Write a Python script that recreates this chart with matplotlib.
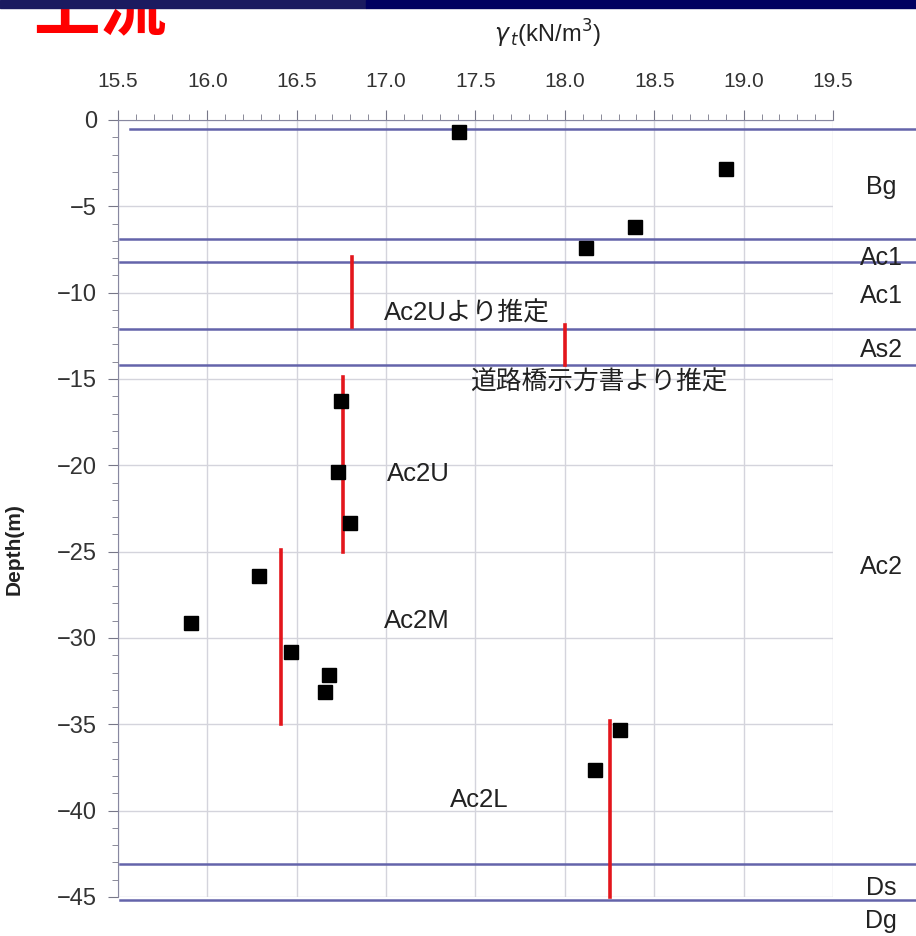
import numpy as np
import matplotlib.pyplot as plt
from matplotlib.ticker import MultipleLocator
from matplotlib.patches import Rectangle

plt.rcParams['font.family'] = ['Liberation Sans', 'Noto Sans CJK JP', 'DejaVu Sans']

# measured unit weight (kN/m3) vs depth (m)
gamma = [17.41, 18.90, 18.39, 18.12, 16.75, 16.73, 16.80, 16.29, 15.91, 16.47, 16.68, 16.66, 18.31, 18.17]
depth = [-0.7, -2.85, -6.2, -7.4, -16.3, -20.4, -23.35, -26.4, -29.15, -30.8, -32.15, -33.1, -35.35, -37.65]

# adopted design values (red bars): value, top, bottom
design_gamma = [16.81, 18.0, 16.76, 16.41, 18.25]
design_top = [-7.95, -11.9, -14.9, -24.9, -34.8]
design_bot = [-12.0, -14.2, -25.0, -35.0, -45.0]

# layer boundaries
boundary_depth = [-0.55, -6.9, -8.25, -12.1, -14.2, -43.1, -45.2]
boundary_start = [15.57, 15.51, 15.51, 15.51, 15.51, 15.51, 15.51]

layer_names = ['Bg', 'Ac1', 'Ac1', 'As2', 'Ac2', 'Ds', 'Dg']
layer_label_y = [-3.9, -8.0, -10.2, -13.3, -25.9, -44.5, -46.4]

notes = ['Ac2Uより推定', '道路橋示方書より推定', 'Ac2U', 'Ac2M', 'Ac2L']
note_x = [17.45, 18.19, 17.18, 17.17, 17.52]
note_y = [-11.2, -15.2, -20.5, -29.0, -39.4]

fig = plt.figure(figsize=(9.16, 9.36), dpi=100)
ax = fig.add_axes([0.1288, 0.0417, 0.7806, 0.8301])

ax.set_xlim(15.5, 19.5)
ax.set_ylim(-45, 0)
ax.xaxis.tick_top()
ax.xaxis.set_label_position('top')
ax.xaxis.set_major_locator(MultipleLocator(0.5))
ax.xaxis.set_minor_locator(MultipleLocator(0.1))
ax.yaxis.set_major_locator(MultipleLocator(5))
ax.yaxis.set_minor_locator(MultipleLocator(1))
ax.set_xticklabels([f'{v:.1f}' for v in ax.get_xticks()])
ax.tick_params(axis='both', which='major', direction='out', length=7, color='#777788',
               labelcolor='#333333')
ax.tick_params(axis='both', which='minor', direction='out', length=4, color='#777788')
ax.tick_params(axis='x', labelsize=15, pad=14)
ax.tick_params(axis='y', labelsize=17, pad=8)
ax.grid(True, which='major', color='#d4d4dc', linewidth=1)
ax.set_axisbelow(True)
for s in ['right', 'bottom']:
    ax.spines[s].set_visible(False)
for s in ['left', 'top']:
    ax.spines[s].set_color('#8888a0')

ax.set_xlabel(r'$\gamma_{\,t}$(kN/m$^3$)', fontsize=17, color='#222222')
ax.xaxis.set_label_coords(0.6, 1.1)
ax.set_ylabel('Depth(m)', fontsize=15, fontweight='bold', color='#222222')
ax.yaxis.set_label_coords(-0.132, 0.448)

for yb, xs in zip(boundary_depth, boundary_start):
    ax.plot([xs, 19.98], [yb, yb], color='#6464aa', linewidth=1.8, clip_on=False, zorder=3)

for xg, yt, yb in zip(design_gamma, design_top, design_bot):
    ax.plot([xg, xg], [yt, yb], color='#e3161c', linewidth=2.6, zorder=4, clip_on=False)

ax.plot(gamma, depth, 's', color='black', markersize=10, zorder=5)

for t, xn, yn in zip(notes, note_x, note_y):
    ax.text(xn, yn, t, fontsize=18.5, ha='center', va='center', color='#222222')

for name, yl in zip(layer_names, layer_label_y):
    ax.text(19.77, yl, name, fontsize=18, ha='center', va='center', color='#222222', clip_on=False)

# header strip and title, partly hidden under the strip as in the slide
fig.patches.append(Rectangle((0, 0.991), 0.4, 0.009, transform=fig.transFigure,
                             color='#1b1b60', zorder=10))
fig.patches.append(Rectangle((0.4, 0.991), 0.6, 0.009, transform=fig.transFigure,
                             color='#000060', zorder=10))
fig.text(0.036, 0.99, '上流', fontsize=48, fontweight='bold', color='#ff0000',
         family=['Noto Sans CJK JP'], ha='left', va='center', zorder=5)

fig.savefig('out.png', dpi=100)
